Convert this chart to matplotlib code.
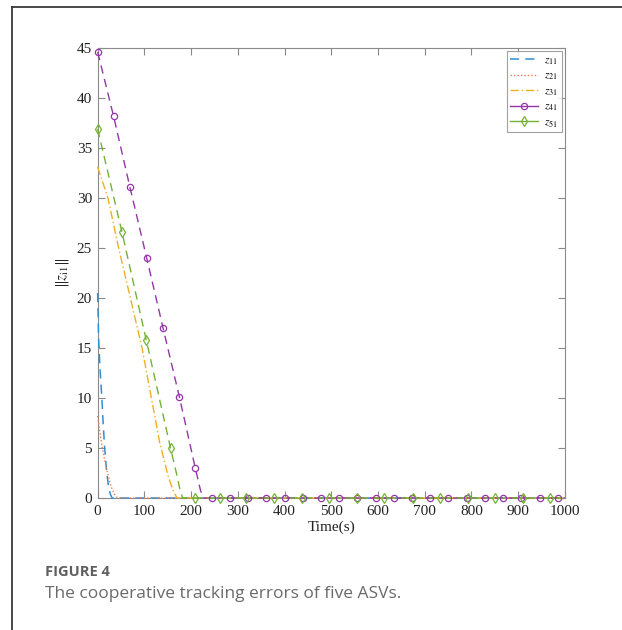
#!/usr/bin/env python3
# -*- coding: utf-8 -*-
### HEADER ------------------------------------------------------------------------
import numpy as np
import matplotlib as mpl
mpl.use('Agg')
import matplotlib.pyplot as plt
###--------------------------------------------------------------------------------

# ---- data ----
# z11 (dashed blue)
t11 = [0, 2, 5, 9, 12, 15, 19, 23, 27, 31, 1000]
v11 = [20.5, 16.0, 13.0, 10.0, 7.3, 5.0, 2.8, 1.2, 0.4, 0.0, 0.0]
# z21 (dotted orange)
t21 = [0, 5, 10, 15, 20, 25, 30, 35, 40, 45, 1000]
v21 = [8.2, 6.5, 5.0, 3.8, 2.7, 1.8, 1.0, 0.45, 0.1, 0.0, 0.0]
# z31 (dash-dot yellow)
t31 = [0, 22, 45, 70, 95, 113, 133, 152, 163, 170, 1000]
v31 = [33.1, 30.0, 25.0, 20.0, 15.0, 10.5, 5.5, 2.0, 0.6, 0.0, 0.0]
# z41 (dashed purple, circles)
t41 = [0, 34, 69, 105, 140, 175, 209, 220, 226, 1000]
v41 = [44.6, 38.2, 31.1, 24.0, 17.0, 10.1, 3.0, 0.8, 0.0, 0.0]
m41_t = [0, 34, 69, 105, 140, 175, 209, 244, 283, 322, 361, 400, 439, 478, 517,
         556, 595, 634, 673, 712, 751, 790, 829, 868, 907, 946, 985]
m41_v = [44.6, 38.2, 31.1, 24.0, 17.0, 10.1, 3.0] + [0.0] * 20
# z51 (dashed green, diamonds)
t51 = [0, 52, 104, 156, 170, 176, 182, 1000]
v51 = [36.9, 26.6, 15.8, 5.0, 2.2, 0.9, 0.0, 0.0]
m51_t = [0, 52, 104, 156, 208, 262, 318, 377, 437, 495, 556, 613, 675, 732,
         792, 851, 910, 969]
m51_v = [36.9, 26.6, 15.8, 5.0] + [0.0] * 14

labels = [r'$z_{11}$', r'$z_{21}$', r'$z_{31}$', r'$z_{41}$', r'$z_{51}$']
xticks = [0, 100, 200, 300, 400, 500, 600, 700, 800, 900, 1000]
yticks = [0, 5, 10, 15, 20, 25, 30, 35, 40, 45]

c_blue = '#2e8fd4'
c_orange = '#ef7d55'
c_yellow = '#efb020'
c_purple = '#9436a8'
c_green = '#74b233'

plt.rcParams['font.family'] = ['Liberation Serif', 'DejaVu Serif']
plt.rcParams['mathtext.fontset'] = 'stix'

fig = plt.figure(figsize=(6.22, 6.30), dpi=100)
ax = fig.add_axes([0.157, 0.2095, 0.751, 0.7143])

ax.plot(t11, v11, color=c_blue, ls=(0, (6, 4)), lw=1.1, label=labels[0],
        zorder=3, clip_on=False)
ax.plot(t21, v21, color=c_orange, ls=(0, (1, 1.5)), lw=1.0, label=labels[1],
        zorder=3, clip_on=False)
ax.plot(t31, v31, color=c_yellow, ls=(0, (6, 2, 1, 2)), lw=1.0, label=labels[2],
        zorder=3, clip_on=False)
ax.plot(t41, v41, color=c_purple, ls=(0, (6, 4)), lw=1.0, zorder=3, clip_on=False)
ax.plot(m41_t, m41_v, ls='none', marker='o', ms=4.5, mfc='none',
        mec=c_purple, mew=0.9, clip_on=False, zorder=5)
ax.plot(t51, v51, color=c_green, ls=(0, (6, 4)), lw=1.0, zorder=3, clip_on=False)
ax.plot(m51_t, m51_v, ls='none', marker='d', ms=5, mfc='none',
        mec=c_green, mew=0.9, clip_on=False, zorder=5)

# legend proxies for the marker lines
ax.plot([], [], color=c_purple, ls='-', lw=1.0, marker='o', ms=4.5,
        mfc='none', mew=0.9, label=labels[3])
ax.plot([], [], color=c_green, ls='-', lw=1.0, marker='d', ms=5,
        mfc='none', mew=0.9, label=labels[4])

ax.set_xlim(0, 1000)
ax.set_ylim(0, 45)
ax.set_xticks(xticks)
ax.set_yticks(yticks)
gray = '#8a8a8a'
for sp in ax.spines.values():
    sp.set_color(gray)
    sp.set_linewidth(0.8)
ax.tick_params(direction='in', top=True, right=True, length=5, width=0.8,
               color=gray, labelsize=11, labelcolor='#222222')
ax.tick_params(axis='x', pad=5)
ax.tick_params(axis='y', pad=4)
ax.set_xlabel('Time(s)', fontsize=11, color='#222222', labelpad=2)
ax.set_ylabel(r'$\|z_{\mathrm{i1}}\|$', fontsize=11, color='#222222', labelpad=4)

leg = ax.legend(loc='upper right', fontsize=8.5, frameon=True, fancybox=False,
                edgecolor=gray, handlelength=2.4, borderpad=0.3,
                labelspacing=0.25, handletextpad=0.5, borderaxespad=0.25)
leg.get_frame().set_linewidth(0.8)

# page frame lines
fig.add_artist(plt.Line2D([12 / 622, 12 / 622], [0, 1 - 7 / 630],
                          transform=fig.transFigure, color='#3a3a3a', lw=1.3))
fig.add_artist(plt.Line2D([12 / 622, 1], [1 - 7 / 630, 1 - 7 / 630],
                          transform=fig.transFigure, color='#3a3a3a', lw=1.3))

fig.text(45 / 622, 1 - 572 / 630, 'FIGURE 4', fontsize=10.5, fontweight='bold',
         color='#5f5f5f', family=['Open Sans', 'DejaVu Sans'], va='center')
fig.text(45 / 622, 1 - 594 / 630, 'The cooperative tracking errors of five ASVs.',
         fontsize=12.5, color='#6a6a6a', family=['Open Sans', 'DejaVu Sans'],
         va='center')

plt.savefig('out.png', dpi=100)
plt.close()
